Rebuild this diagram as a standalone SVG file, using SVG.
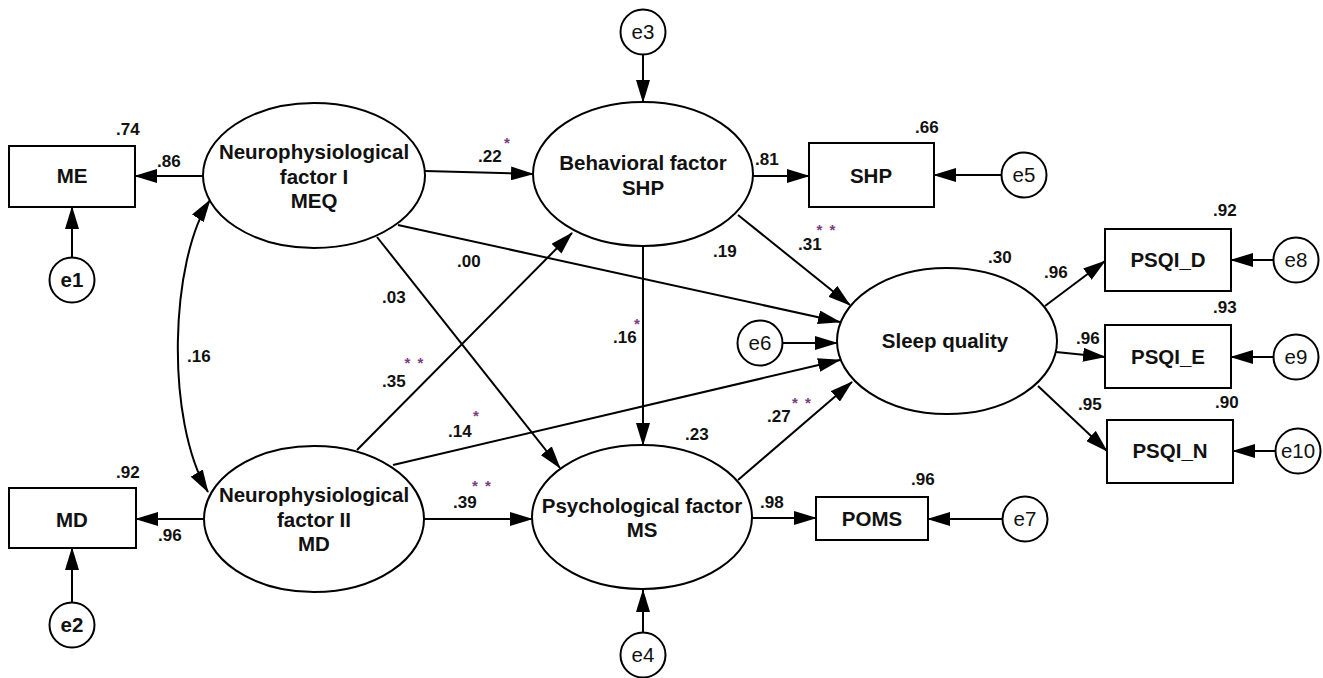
<svg xmlns="http://www.w3.org/2000/svg" width="1323" height="678" viewBox="0 0 1323 678">
<defs>
<style>
.shape{fill:#fff;stroke:#000;stroke-width:2}
.ln{fill:none;stroke:#000;stroke-width:2;marker-end:url(#ah)}
.nt{font-family:"Liberation Sans",Arial,sans-serif;font-weight:bold;font-size:20.5px;text-anchor:middle;fill:#111}
.et{font-family:"Liberation Sans",Arial,sans-serif;font-size:20.5px;text-anchor:middle;fill:#111}
.lb{font-family:"Liberation Sans",Arial,sans-serif;font-weight:bold;font-size:17px;fill:#111}
.st{font-family:"Liberation Sans",Arial,sans-serif;font-weight:bold;font-size:15px;text-anchor:middle;fill:#7d3a82}
</style>
<marker id="ah" markerUnits="userSpaceOnUse" markerWidth="23" markerHeight="14" viewBox="0 0 23 14" refX="22" refY="7" orient="auto-start-reverse">
<path d="M0,0 L23,7 L0,14 z" fill="#000"/>
</marker>
</defs>
<rect width="1323" height="678" fill="#fff"/>

<g id="connectors">
<line class="ln" x1="203" y1="176" x2="135" y2="176"/>
<line class="ln" x1="72" y1="257.5" x2="72" y2="207"/>
<line class="ln" x1="204" y1="519" x2="136" y2="519"/>
<line class="ln" x1="72" y1="602.5" x2="72" y2="548"/>
<path class="ln" style="marker-start:url(#ah)" d="M210,200 C170,260 165,420 208,492"/>
<line class="ln" x1="425" y1="171" x2="533" y2="174"/>
<line class="ln" x1="643" y1="54.5" x2="643" y2="102"/>
<line class="ln" x1="753" y1="176" x2="809" y2="176"/>
<line class="ln" x1="1001.5" y1="175" x2="934" y2="175"/>
<line class="ln" x1="398" y1="225" x2="840" y2="322"/>
<line class="ln" x1="377" y1="237" x2="560" y2="468"/>
<line class="ln" x1="357" y1="450" x2="572" y2="233"/>
<line class="ln" x1="393" y1="465" x2="840" y2="360"/>
<line class="ln" x1="424" y1="519" x2="532" y2="519"/>
<line class="ln" x1="643" y1="246" x2="643" y2="445"/>
<line class="ln" x1="738" y1="215" x2="850" y2="305"/>
<line class="ln" x1="738" y1="480" x2="852" y2="382"/>
<line class="ln" x1="782.5" y1="343" x2="837" y2="343"/>
<line class="ln" x1="643" y1="632.5" x2="643" y2="590"/>
<line class="ln" x1="752" y1="518" x2="816" y2="518"/>
<line class="ln" x1="1002.5" y1="519" x2="928" y2="519"/>
<line class="ln" x1="1045" y1="306" x2="1105" y2="261"/>
<line class="ln" x1="1056" y1="352" x2="1105" y2="357"/>
<line class="ln" x1="1038" y1="386" x2="1107" y2="451"/>
<line class="ln" x1="1273.5" y1="260" x2="1231" y2="260"/>
<line class="ln" x1="1273.5" y1="357" x2="1231" y2="357"/>
<line class="ln" x1="1275.5" y1="451" x2="1233" y2="451"/>
</g>

<g id="ME"><rect class="shape" x="9" y="146" width="126" height="61"/><text class="nt" x="72" y="183">ME</text></g>
<g id="MD"><rect class="shape" x="9" y="488" width="127" height="60"/><text class="nt" x="72" y="527">MD</text></g>
<g id="e1"><circle class="shape" cx="72" cy="280" r="22.5"/><text class="et" style="font-weight:bold" x="72" y="287">e1</text></g>
<g id="e2"><circle class="shape" cx="72" cy="625" r="22.5"/><text class="et" style="font-weight:bold" x="72" y="632">e2</text></g>

<g id="MEQ"><ellipse class="shape" cx="314" cy="175.5" rx="111" ry="72.5"/>
<text class="nt" x="314" y="159">Neurophysiological</text><text class="nt" x="314" y="183.5">factor I</text><text class="nt" x="314" y="208">MEQ</text></g>
<g id="MDlat"><ellipse class="shape" cx="314" cy="519" rx="110" ry="73"/>
<text class="nt" x="314" y="502">Neurophysiological</text><text class="nt" x="314" y="527">factor II</text><text class="nt" x="314" y="551">MD</text></g>

<g id="SHPlat"><ellipse class="shape" cx="643" cy="174" rx="110" ry="72"/>
<text class="nt" x="643" y="170">Behavioral factor</text><text class="nt" x="643" y="195">SHP</text></g>
<g id="e3"><circle class="shape" cx="643" cy="32" r="22.5"/><text class="et" x="643" y="39">e3</text></g>
<g id="SHP"><rect class="shape" x="809" y="143" width="125" height="64"/><text class="nt" x="871" y="183">SHP</text></g>
<g id="e5"><circle class="shape" cx="1024" cy="175" r="22.5"/><text class="et" x="1024" y="182">e5</text></g>

<g id="MS"><ellipse class="shape" cx="642" cy="517" rx="110" ry="72"/>
<text class="nt" x="642" y="513">Psychological factor</text><text class="nt" x="642" y="537">MS</text></g>
<g id="e4"><circle class="shape" cx="643" cy="655" r="22.5"/><text class="et" x="643" y="662">e4</text></g>
<g id="POMS"><rect class="shape" x="816" y="497" width="112" height="43"/><text class="nt" x="872" y="526">POMS</text></g>
<g id="e7"><circle class="shape" cx="1025" cy="519" r="22.5"/><text class="et" x="1025" y="526">e7</text></g>

<g id="e6"><circle class="shape" cx="760" cy="343" r="22.5"/><text class="et" x="760" y="350">e6</text></g>
<g id="Sleep"><ellipse class="shape" cx="947" cy="341" rx="110" ry="73"/><text class="nt" x="945" y="348">Sleep quality</text></g>

<g id="PSQI_D"><rect class="shape" x="1105" y="229" width="126" height="62"/><text class="nt" x="1168" y="267">PSQI_D</text></g>
<g id="e8"><circle class="shape" cx="1296" cy="260" r="22.5"/><text class="et" x="1296" y="267">e8</text></g>
<g id="PSQI_E"><rect class="shape" x="1105" y="325" width="126" height="63"/><text class="nt" x="1168" y="364">PSQI_E</text></g>
<g id="e9"><circle class="shape" cx="1296" cy="357" r="22.5"/><text class="et" x="1296" y="364">e9</text></g>
<g id="PSQI_N"><rect class="shape" x="1107" y="420" width="126" height="63"/><text class="nt" x="1170" y="458">PSQI_N</text></g>
<g id="e10"><circle class="shape" cx="1298" cy="451" r="22.5"/><text class="et" x="1298" y="458">e10</text></g>

<g id="labels">
<text class="lb" x="116" y="135">.74</text>
<text class="lb" x="157" y="167">.86</text>
<text class="lb" x="116" y="478">.92</text>
<text class="lb" x="158" y="541">.96</text>
<text class="lb" x="187" y="362">.16</text>
<text class="lb" x="478" y="162">.22</text>
<text class="lb" x="755" y="165">.81</text>
<text class="lb" x="915" y="133">.66</text>
<text class="lb" x="457" y="267">.00</text>
<text class="lb" x="713" y="257">.19</text>
<text class="lb" x="798" y="250">.31</text>
<text class="lb" x="382" y="303">.03</text>
<text class="lb" x="382" y="387">.35</text>
<text class="lb" x="613" y="343">.16</text>
<text class="lb" x="448" y="437">.14</text>
<text class="lb" x="685" y="440">.23</text>
<text class="lb" x="767" y="422">.27</text>
<text class="lb" x="453" y="508">.39</text>
<text class="lb" x="760" y="508">.98</text>
<text class="lb" x="911" y="485">.96</text>
<text class="lb" x="988" y="263">.30</text>
<text class="lb" x="1044" y="278">.96</text>
<text class="lb" x="1213" y="216">.92</text>
<text class="lb" x="1213" y="313">.93</text>
<text class="lb" x="1076" y="344">.96</text>
<text class="lb" x="1215" y="408">.90</text>
<text class="lb" x="1078" y="410">.95</text>
</g>
<g id="stars">
<text class="st" x="507" y="148">*</text>
<text class="st" x="819.5 832.5" y="235">**</text>
<text class="st" x="407.5 420.5" y="368">**</text>
<text class="st" x="637" y="329">*</text>
<text class="st" x="476" y="421">*</text>
<text class="st" x="795 808" y="408">**</text>
<text class="st" x="475 488" y="491">**</text>
</g>
</svg>
